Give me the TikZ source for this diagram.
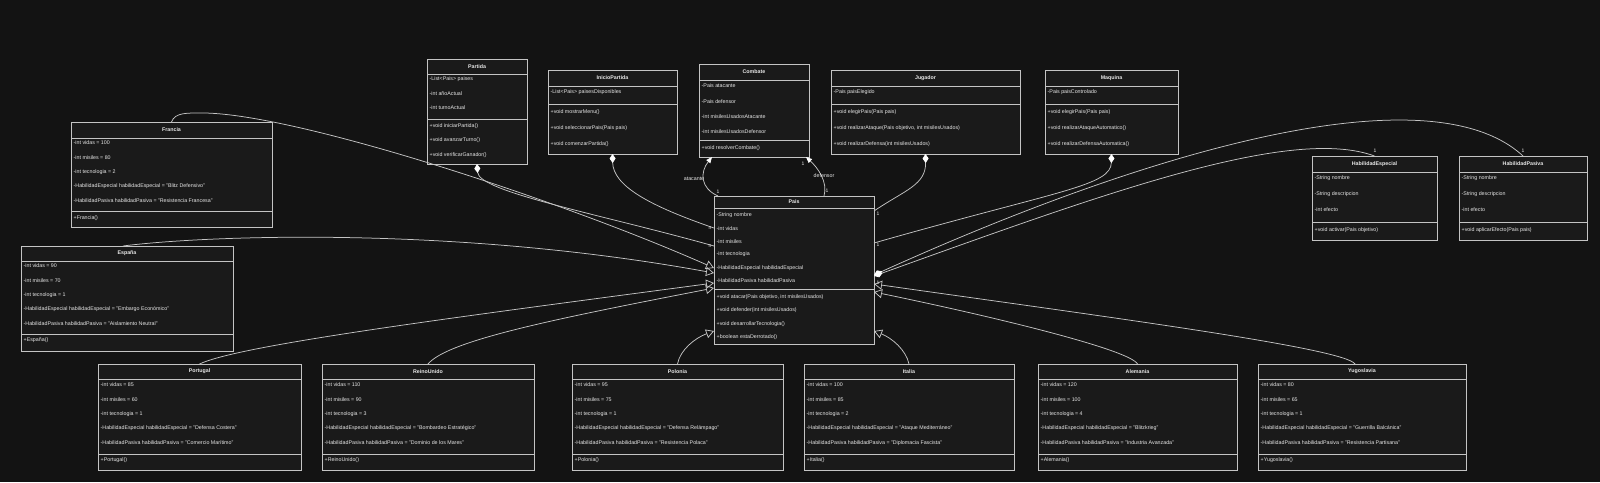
\documentclass[tikz,border=0pt]{standalone}
\usepackage{fontspec}
\setmainfont{Liberation Sans}
\usetikzlibrary{arrows.meta,calc}
\definecolor{bg}{HTML}{131313}
\definecolor{boxfill}{HTML}{1A1A1A}
\definecolor{edge}{HTML}{C4C4C4}
\definecolor{txt}{HTML}{E8E8E8}
\tikzset{
 classbox/.style={draw=edge, fill=boxfill, line width=0.8pt, inner sep=0pt, outer sep=0pt},
 divider/.style={draw=edge, line width=0.8pt},
 titletext/.style={text=txt, font=\fontsize{5.3}{6}\selectfont\bfseries, inner sep=0pt},
 rowtext/.style={text=txt, font=\fontsize{5.3}{6}\selectfont, inner sep=0pt, anchor=west},
 conn/.style={draw=edge, line width=0.75pt},
 inherit/.style={conn, -{Triangle[open, length=8pt, width=9pt, line width=0.75pt]}},
 compos/.style={conn, {Diamond[color=white, fill=white, length=9pt, width=6pt]}-},
 assoc/.style={conn, -{Triangle[color=white, fill=white, length=6pt, width=5pt]}},
 mult/.style={text=txt, font=\fontsize{5}{5}\selectfont, inner sep=0.3pt},
 elabel/.style={text=txt, font=\fontsize{5.3}{6}\selectfont, inner sep=0.6pt},
}
\newcommand{\umlclass}[8]{%
  \pgfmathsetmacro{\ucw}{#3-#2}%
  \pgfmathsetmacro{\uch}{#7-#4}%
  \pgfmathsetmacro{\ucx}{(#2+#3)/2}%
  \pgfmathsetmacro{\ucy}{(#4+#7)/2}%
  \pgfmathsetmacro{\uty}{(#4+#5)/2}%
  \node[classbox, minimum width=\ucw pt, minimum height=\uch pt] (#1) at (\ucx,\ucy) {};
  \draw[divider] (#2,#5) -- (#3,#5);
  \draw[divider] (#2,#6) -- (#3,#6);
  \node[titletext] (#1-title) at (\ucx,\uty) {#8};
}
\newcommand{\umlrows}[6]{%
  \foreach \rt [count=\ri from 0] in {#6} {%
    \pgfmathsetmacro{\ry}{#3+(#4-#3)*\ri/max(#5-1,1)}%
    \node[rowtext] (#1-\ri) at (#2+2.5,\ry) {\rt};
  }%
}
\begin{document}
\begin{tikzpicture}[x=1pt,y=-1pt]
\fill[bg] (0,0) rectangle (1600,482);
\useasboundingbox (0,0) rectangle (1600,482);

% ---------- classes ----------
\umlclass{partida}{427}{527}{59}{74}{119}{164}{Partida}
\umlrows{partida-a}{427}{79}{108}{3}{{-List<Pais> paises},{-int añoActual},{-int turnoActual}}
\umlrows{partida-m}{427}{126}{155}{3}{{+void iniciarPartida()},{+void avanzarTurno()},{+void verificarGanador()}}

\umlclass{inicio}{548}{677}{70}{86}{104}{154}{InicioPartida}
\umlrows{inicio-a}{548}{92}{92}{1}{{-List<Pais> paisesDisponibles}}
\umlrows{inicio-m}{548}{112}{144}{3}{{+void mostrarMenu()},{+void seleccionarPais(Pais pais)},{+void comenzarPartida()}}

\umlclass{combate}{699}{809}{64}{80}{140}{157}{Combate}
\umlrows{combate-a}{699}{86}{132}{4}{{-Pais atacante},{-Pais defensor},{-int misilesUsadosAtacante},{-int misilesUsadosDefensor}}
\umlrows{combate-m}{699}{148}{148}{1}{{+void resolverCombate()}}

\umlclass{jugador}{831}{1020}{70}{86}{104}{154}{Jugador}
\umlrows{jugador-a}{831}{92}{92}{1}{{-Pais paisElegido}}
\umlrows{jugador-m}{831}{112}{144}{3}{{+void elegirPais(Pais pais)},{+void realizarAtaque(Pais objetivo, int misilesUsados)},{+void realizarDefensa(int misilesUsados)}}

\umlclass{maquina}{1045}{1178}{70}{86}{104}{154}{Maquina}
\umlrows{maquina-a}{1045}{92}{92}{1}{{-Pais paisControlado}}
\umlrows{maquina-m}{1045}{112}{144}{3}{{+void elegirPais(Pais pais)},{+void realizarAtaqueAutomatico()},{+void realizarDefensaAutomatica()}}

\umlclass{habesp}{1312}{1437}{156}{172}{222}{240}{HabilidadEspecial}
\umlrows{habesp-a}{1312}{178}{210}{3}{{-String nombre},{-String descripcion},{-int efecto}}
\umlrows{habesp-m}{1312}{230}{230}{1}{{+void activar(Pais objetivo)}}

\umlclass{habpas}{1459}{1587}{156}{172}{222}{240}{HabilidadPasiva}
\umlrows{habpas-a}{1459}{178}{210}{3}{{-String nombre},{-String descripcion},{-int efecto}}
\umlrows{habpas-m}{1459}{230}{230}{1}{{+void aplicarEfecto(Pais pais)}}

\umlclass{francia}{71}{272}{122}{138}{211}{227}{Francia}
\umlrows{francia-a}{71}{143}{201}{5}{{-int vidas = 100},{-int misiles = 80},{-int tecnologia = 2},{-HabilidadEspecial habilidadEspecial = "Blitz Defensivo"},{-HabilidadPasiva habilidadPasiva = "Resistencia Francesa"}}
\umlrows{francia-m}{71}{218}{218}{1}{{+Francia()}}

\umlclass{espana}{21}{233}{246}{261}{334}{351}{España}
\umlrows{espana-a}{21}{266}{324}{5}{{-int vidas = 90},{-int misiles = 70},{-int tecnologia = 1},{-HabilidadEspecial habilidadEspecial = "Embargo Económico"},{-HabilidadPasiva habilidadPasiva = "Aislamiento Neutral"}}
\umlrows{espana-m}{21}{340}{340}{1}{{+España()}}

\umlclass{pais}{714}{874}{196}{208}{289}{344}{Pais}
\umlrows{pais-a}{714}{215}{281}{6}{{-String nombre},{-int vidas},{-int misiles},{-int tecnologia},{-HabilidadEspecial habilidadEspecial},{-HabilidadPasiva habilidadPasiva}}
\umlrows{pais-m}{714}{297}{337}{4}{{+void atacar(Pais objetivo, int misilesUsados)},{+void defender(int misilesUsados)},{+void desarrollarTecnologia()},{+boolean estaDerrotado()}}

\umlclass{portugal}{98}{301}{364}{379}{454}{470}{Portugal}
\umlrows{portugal-a}{98}{385}{443}{5}{{-int vidas = 85},{-int misiles = 60},{-int tecnologia = 1},{-HabilidadEspecial habilidadEspecial = "Defensa Costera"},{-HabilidadPasiva habilidadPasiva = "Comercio Marítimo"}}
\umlrows{portugal-m}{98}{460}{460}{1}{{+Portugal()}}

\umlclass{reino}{322}{534}{364}{379}{454}{470}{ReinoUnido}
\umlrows{reino-a}{322}{385}{443}{5}{{-int vidas = 110},{-int misiles = 90},{-int tecnologia = 3},{-HabilidadEspecial habilidadEspecial = "Bombardeo Estratégico"},{-HabilidadPasiva habilidadPasiva = "Dominio de los Mares"}}
\umlrows{reino-m}{322}{460}{460}{1}{{+ReinoUnido()}}

\umlclass{polonia}{572}{783}{364}{379}{454}{470}{Polonia}
\umlrows{polonia-a}{572}{385}{443}{5}{{-int vidas = 95},{-int misiles = 75},{-int tecnologia = 1},{-HabilidadEspecial habilidadEspecial = "Defensa Relámpago"},{-HabilidadPasiva habilidadPasiva = "Resistencia Polaca"}}
\umlrows{polonia-m}{572}{460}{460}{1}{{+Polonia()}}

\umlclass{italia}{804}{1014}{364}{379}{454}{470}{Italia}
\umlrows{italia-a}{804}{385}{443}{5}{{-int vidas = 100},{-int misiles = 85},{-int tecnologia = 2},{-HabilidadEspecial habilidadEspecial = "Ataque Mediterráneo"},{-HabilidadPasiva habilidadPasiva = "Diplomacia Fascista"}}
\umlrows{italia-m}{804}{460}{460}{1}{{+Italia()}}

\umlclass{alemania}{1038}{1237}{364}{379}{454}{470}{Alemania}
\umlrows{alemania-a}{1038}{385}{443}{5}{{-int vidas = 120},{-int misiles = 100},{-int tecnologia = 4},{-HabilidadEspecial habilidadEspecial = "Blitzkrieg"},{-HabilidadPasiva habilidadPasiva = "Industria Avanzada"}}
\umlrows{alemania-m}{1038}{460}{460}{1}{{+Alemania()}}

\umlclass{yugo}{1258}{1466}{364}{379}{454}{470}{Yugoslavia}
\umlrows{yugo-a}{1258}{385}{443}{5}{{-int vidas = 80},{-int misiles = 65},{-int tecnologia = 1},{-HabilidadEspecial habilidadEspecial = "Guerrilla Balcánica"},{-HabilidadPasiva habilidadPasiva = "Resistencia Partisana"}}
\umlrows{yugo-m}{1258}{460}{460}{1}{{+Yugoslavia()}}

% ---------- composition ----------
\draw[compos] (partida.south) .. controls (479,192) and (600,214) .. ($(pais.north west)+(0,50)$);
\draw[compos] (inicio.south) .. controls (613,186) and (650,206) .. ($(pais.north west)+(0,32)$);
\draw[compos] (jugador.south) .. controls (926,185) and (905,190) .. ($(pais.north east)+(0,15)$);
\draw[compos] (maquina.south) .. controls (1111,186) and (1060,190) .. ($(pais.north east)+(0,47)$);
\draw[compos] ($(pais.north east)+(0,80)$) .. controls (1100,195) and (1290,125) .. (habesp.north);
\draw[compos] ($(pais.north east)+(0,79)$) .. controls (1150,150) and (1430,70) .. (habpas.north);

% ---------- association ----------
\draw[assoc] ($(pais.north west)+(4,0)$) .. controls (700,188) and (700,172) .. ($(combate.south west)+(13,0)$);
\draw[assoc] ($(pais.north west)+(110,0)$) .. controls (828,182) and (818,168) .. ($(combate.south east)+(-3,0)$);
\node[elabel] (lblatac) at (694,179) {atacante};
\node[elabel] (lbldef) at (824,176) {defensor};

% ---------- inheritance ----------
\draw[inherit] (francia.north) .. controls (175,112) and (188,113) .. (205,113) .. controls (300,115) and (560,200) .. ($(pais.north west)+(0,72)$);
\draw[inherit] ($(espana.north)+(-4,0)$) .. controls (200,236) and (450,225) .. ($(pais.north west)+(0,77)$);
\draw[inherit] (portugal.north) .. controls (240,345) and (450,318) .. ($(pais.north west)+(0,87)$);
\draw[inherit] (reino.north) .. controls (448,340) and (560,318) .. ($(pais.north west)+(0,92)$);
\draw[inherit] (polonia.north) .. controls (680,350) and (695,338) .. ($(pais.north west)+(0,135)$);
\draw[inherit] (italia.north) .. controls (906,350) and (892,338) .. ($(pais.north east)+(0,135)$);
\draw[inherit] (alemania.north) .. controls (1130,350) and (1000,318) .. ($(pais.north east)+(0,96)$);
\draw[inherit] ($(yugo.north)+(-7,0)$) .. controls (1345,348) and (1100,316) .. ($(pais.north east)+(0,88)$);

% ---------- multiplicities ----------
\node[mult] (m1) at (710,228) {n};
\node[mult] (m2) at (710,246) {n};
\node[mult] (m3) at (878,214) {1};
\node[mult] (m4) at (878,245) {1};
\node[mult] (m5) at (878,283) {1};
\node[mult] (m6) at (1375,151) {1};
\node[mult] (m7) at (1523,151) {1};
\node[mult] (m8) at (718,192) {1};
\node[mult] (m9) at (827,191) {1};
\node[mult] (m10) at (803,164) {1};
\end{tikzpicture}
\end{document}
